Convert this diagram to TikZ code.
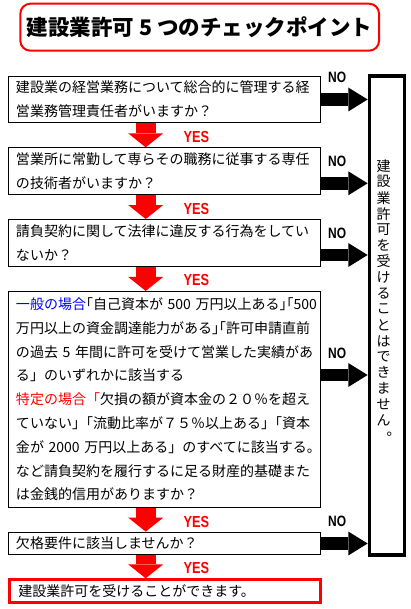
\documentclass[tikz,border=0pt]{standalone}
\usepackage{fontspec}
\setmainfont{Noto Sans CJK JP}
\newfontfamily\yesnofont{Liberation Sans}[FakeStretch=0.8]
\usetikzlibrary{arrows.meta}
\newcommand{\hw}[1]{{\addfontfeature{RawFeature=+halt}#1}}
\newcommand{\boxX}{164.5}
\newcommand{\arrX}{145.7}
\newcommand{\pitch}{15.9}
\tikzset{
  qbox/.style={draw=black,line width=1pt,minimum width=311.4pt,text width=297pt,
    inner xsep=7.2pt,inner ysep=0pt,align=left,font=\fontsize{14}{23.8}\selectfont},
  yesarrow/.style={red,line width=20pt,-{Triangle[length=14pt,width=35pt,line width=0pt]}},
  noarrow/.style={black,line width=12.5pt,-{Triangle[length=19.4pt,width=24pt,line width=0pt]}},
  yeslabel/.style={anchor=west,inner sep=0pt,text=red,font=\yesnofont\bfseries\fontsize{16}{16}\selectfont},
  nolabel/.style={anchor=west,inner sep=0pt,font=\yesnofont\bfseries\fontsize{15}{15}\selectfont},
  vchar/.style={inner sep=0pt,font=\fontsize{14}{14}\selectfont}
}
\begin{document}
\begin{tikzpicture}[x=1pt,y=-1pt]
\useasboundingbox (0,0) rectangle (410,609);

%% ---------------- title ----------------
\node[draw=red,line width=2pt,rounded corners=10pt,minimum width=358.7pt,minimum height=47pt,
  inner sep=0pt,font=\bfseries\fontsize{21.5}{21.5}\selectfont] (title) at (199.7,27.2)
  {建設業許可~5~つのチェックポイント};

%% ---------------- check boxes ----------------
\node[qbox,minimum height=46.6pt] (q1) at (\boxX,99.5)
  {建設業の経営業務について総合的に管理する経\\営業務管理責任者がいますか？};
\node[qbox,minimum height=46.7pt] (q2) at (\boxX,171.2)
  {営業所に常勤して専らその職務に従事する専任\\の技術者がいますか？};
\node[qbox,minimum height=47.3pt] (q3) at (\boxX,243.2)
  {請負契約に関して法律に違反する行為をしてい\\ないか？};
\node[qbox,minimum height=215.7pt] (q4) at (\boxX,399.3)
  {\textcolor{blue}{一般の場合}\hw{「}自己資本が~500~万円以上ある\hw{」「}500\\
   万円以上の資金調達能力がある\hw{」「}許可申請直前\\
   の過去~5~年間に許可を受けて営業した実績があ\\
   る」のいずれかに該当する\\
   \textcolor{red}{特定の場合「}欠損の額が資本金の２０％を超え\\
   ていない\hw{」}「流動比率が７５％以上ある\hw{」}「資本\\
   金が~2000~万円以上ある」のすべてに該当する。\\
   など請負契約を履行するに足る財産的基礎また\\
   は金銭的信用がありますか？};
\node[qbox,minimum height=22.3pt] (q5) at (\boxX,543.3) {欠格要件に該当しませんか？};
\node[qbox,draw=red,line width=2.7pt,minimum width=310.6pt,text width=293.4pt,inner xsep=8.6pt,
  minimum height=23pt] (ok) at (165,591.2) {建設業許可を受けることができます。};

%% ---------------- result column ----------------
\node[draw,line width=3.3pt,minimum width=35pt,minimum height=479pt,inner sep=0pt] (res) at (386.8,315.5) {};
\foreach \c [count=\i] in {建,設,業,許,可,を,受,け,る,こ,と,は,で,き,ま,せ,ん}
  \node[vchar] (v\i) at (383.5,{166+\pitch*(\i-1)}) {\c};
\node[vchar] (v18) at (390,434.5) {\makebox[7pt][l]{。}};

%% ---------------- NO arrows ----------------
\foreach \q/\y [count=\k] in {q1/99.5,q2/183.3,q3/255,q4/375,q5/543.5}{
  \coordinate (na\k) at (0,\y);
  \draw[noarrow] (\q.east |- na\k) -- (res.west |- na\k);
  \node[nolabel] (no\k) at (328,{\y-21.8}) {NO};
}

%% ---------------- YES arrows ----------------
\coordinate (ax) at (\arrX,0);
\foreach \a/\b/\y [count=\k] in {q1/q2/136.7,q2/q3/209,q3/q4/280,q4/q5/521.7,q5/ok/568}{
  \draw[yesarrow] (\a.south -| ax) -- (\b.north -| ax);
  \node[yeslabel] (yes\k) at (183.3,\y) {YES};
}

\end{tikzpicture}
\end{document}
